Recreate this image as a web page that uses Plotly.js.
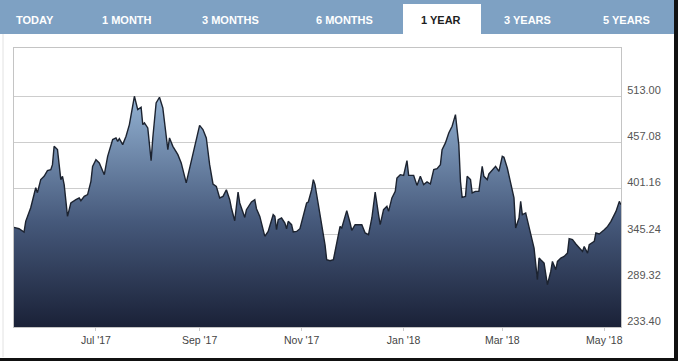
<!DOCTYPE html>
<html>
<head>
<meta charset="utf-8">
<script src="https://cdn.plot.ly/plotly-3.0.1.min.js"></script>
<style>
  html, body { margin: 0; padding: 0; background: #ffffff; }
  #chart { width: 682px; height: 361px; }
</style>
</head>
<body>
<div id="chart"></div>
<script>
// ---- data ----
const dates = [
  '2017-05-13','2017-05-16','2017-05-19','2017-05-20','2017-05-23','2017-05-26','2017-05-27','2017-05-29','2017-05-31',
  '2017-06-02','2017-06-04','2017-06-05','2017-06-06','2017-06-08','2017-06-09','2017-06-10','2017-06-11','2017-06-12',
  '2017-06-14','2017-06-16','2017-06-19','2017-06-21','2017-06-22','2017-06-24','2017-06-26','2017-06-28','2017-06-29',
  '2017-07-01','2017-07-03','2017-07-04','2017-07-06','2017-07-08','2017-07-11','2017-07-13','2017-07-14','2017-07-15',
  '2017-07-17','2017-07-19','2017-07-21','2017-07-24','2017-07-25','2017-07-26','2017-07-28','2017-07-29','2017-07-30',
  '2017-08-01','2017-08-03','2017-08-04','2017-08-06','2017-08-08','2017-08-10','2017-08-12','2017-08-13','2017-08-14',
  '2017-08-16','2017-08-19','2017-08-21','2017-08-24','2017-08-26','2017-08-27','2017-08-29',
  '2017-09-01','2017-09-03','2017-09-05','2017-09-07','2017-09-09','2017-09-11','2017-09-13','2017-09-15','2017-09-17',
  '2017-09-19','2017-09-20','2017-09-22','2017-09-24','2017-09-25','2017-09-28','2017-09-29',
  '2017-10-01','2017-10-02','2017-10-04','2017-10-05','2017-10-07','2017-10-10','2017-10-12','2017-10-15','2017-10-16',
  '2017-10-17','2017-10-18','2017-10-20','2017-10-22','2017-10-23','2017-10-24','2017-10-26','2017-10-27','2017-10-29','2017-10-31',
  '2017-11-02','2017-11-04','2017-11-05','2017-11-07','2017-11-08','2017-11-09','2017-11-11','2017-11-13','2017-11-15',
  '2017-11-16','2017-11-18','2017-11-20','2017-11-22','2017-11-24','2017-11-25','2017-11-28','2017-11-30',
  '2017-12-01','2017-12-03','2017-12-05','2017-12-07','2017-12-09','2017-12-11','2017-12-13','2017-12-15','2017-12-17',
  '2017-12-18','2017-12-20','2017-12-22','2017-12-23','2017-12-25','2017-12-27','2017-12-28','2017-12-30',
  '2018-01-01','2018-01-03','2018-01-04','2018-01-07','2018-01-09','2018-01-11','2018-01-13','2018-01-15','2018-01-17',
  '2018-01-19','2018-01-21','2018-01-23','2018-01-24','2018-01-26','2018-01-28','2018-01-30',
  '2018-02-01','2018-02-03','2018-02-04','2018-02-05','2018-02-07','2018-02-08','2018-02-10','2018-02-11','2018-02-13',
  '2018-02-15','2018-02-17','2018-02-18','2018-02-20','2018-02-21','2018-02-23','2018-02-25','2018-02-27',
  '2018-03-01','2018-03-02','2018-03-04','2018-03-06','2018-03-08','2018-03-09','2018-03-11','2018-03-12','2018-03-13',
  '2018-03-15','2018-03-16','2018-03-18','2018-03-20','2018-03-22','2018-03-23','2018-03-24','2018-03-26','2018-03-28',
  '2018-03-30','2018-03-31',
  '2018-04-02','2018-04-03','2018-04-05','2018-04-07','2018-04-09','2018-04-10','2018-04-12','2018-04-14','2018-04-16',
  '2018-04-18','2018-04-19','2018-04-21','2018-04-22','2018-04-25','2018-04-26','2018-04-28',
  '2018-05-01','2018-05-03','2018-05-05','2018-05-08','2018-05-10','2018-05-11'
];
const prices = [
  354.1,352.5,348.5,361.4,378.0,402.2,396.2,412.0,416.0,
  422.9,424.1,430.1,452.3,448.4,430.1,412.0,416.0,405.9,
  367.4,383.7,387.7,389.8,386.5,391.7,393.8,409.9,428.1,
  436.2,432.2,428.1,418.0,440.2,460.5,462.5,458.4,461.7,
  454.4,464.5,478.7,513.0,502.9,496.9,499.7,478.7,480.7,
  474.7,435.0,462.5,505.0,511.8,498.9,466.5,448.4,462.5,
  452.3,442.3,432.2,408.0,426.1,434.2,454.4,
  477.8,472.6,462.5,430.1,406.7,403.8,389.8,391.7,399.8,
  387.7,377.6,362.2,397.0,383.7,366.2,375.6,
  381.6,384.9,387.7,376.8,367.4,343.2,349.2,369.5,367.4,
  351.3,363.4,365.5,359.4,352.5,361.4,357.4,348.5,349.2,352.5,
  369.5,383.7,384.9,399.8,412.0,405.9,381.6,357.4,333.1,
  314.9,313.7,314.9,337.1,355.3,353.4,374.4,359.4,
  350.5,357.4,357.4,357.4,347.4,345.2,365.5,397.0,369.5,
  357.4,375.6,379.6,373.5,389.8,397.8,414.0,418.0,
  417.2,435.0,417.2,417.2,405.0,416.0,405.9,409.2,406.7,
  424.1,425.3,430.1,448.4,456.5,468.6,476.6,
  490.8,454.4,409.9,390.5,391.7,416.0,412.0,395.8,397.8,
  397.8,428.1,416.0,412.0,418.9,422.9,428.1,422.0,
  440.2,439.0,426.1,408.0,389.8,353.4,365.5,385.6,369.5,
  371.6,363.4,349.2,329.1,290.7,317.0,314.9,310.9,284.6,
  300.7,312.9,
  302.8,312.9,317.0,318.9,323.0,340.4,339.2,334.0,329.1,
  325.0,331.0,323.0,333.1,337.1,347.3,346.1,
  351.3,355.3,361.4,373.5,385.6,381.6
];
const xTickVals = ['2017-07-01','2017-09-01','2017-11-01','2018-01-01','2018-03-01','2018-05-01'];
const xTickText = ["Jul '17","Sep '17","Nov '17","Jan '18","Mar '18","May '18"];
const yTickVals = [233.40, 289.32, 345.24, 401.16, 457.08, 513.00];
const yTickText = ['233.40','289.32','345.24','401.16','457.08','513.00'];
const tabLabels = ['TODAY','1 MONTH','3 MONTHS','6 MONTHS','1 YEAR','3 YEARS','5 YEARS'];
const activeTab = '1 YEAR';

// ---- layout helpers (pixel -> paper) ----
const FW = 682, FH = 361;
const ML = 14, MR = 61, MT = 48, MB = 34;
const PW = FW - ML - MR, PH = FH - MT - MB;
const px = p => (p - ML) / PW;
const py = p => 1 - (p - MT) / PH;

const tabCenters = [35, 127, 230, 344, 441, 527, 626];

const shapes = [
  {type:'rect', xref:'paper', yref:'paper', x0:px(0), x1:px(674), y0:py(0), y1:py(34),
   fillcolor:'#7ea1c3', line:{width:0}, layer:'above'},
  {type:'rect', xref:'paper', yref:'paper', x0:px(403), x1:px(481), y0:py(4), y1:py(35),
   fillcolor:'#ffffff', line:{width:0}, layer:'above'},
  {type:'rect', xref:'paper', yref:'paper', x0:px(674), x1:px(678), y0:py(0), y1:py(361),
   fillcolor:'#111111', line:{width:0}, layer:'above'},
  {type:'rect', xref:'paper', yref:'paper', x0:px(0), x1:px(678), y0:py(358), y1:py(361),
   fillcolor:'#111111', line:{width:0}, layer:'above'},
  {type:'line', xref:'paper', yref:'paper', x0:px(3), x1:px(3), y0:py(34), y1:py(357),
   line:{color:'#e2e2e2', width:1}, layer:'above'}
];

const annotations = tabLabels.map((t, i) => ({
  xref:'paper', yref:'paper', x:px(tabCenters[i]), y:py(19.5),
  xanchor:'center', yanchor:'middle', showarrow:false, text:'<b>' + t + '</b>',
  font:{family:'"Liberation Sans", Arial, sans-serif', size:11, color: t === activeTab ? '#1e1e1e' : '#ffffff'}
}));

const trace = {
  type:'scatter', mode:'lines', x:dates, y:prices,
  fill:'tozeroy',
  fillgradient:{type:'vertical', start:233.4, stop:513,
    colorscale:[[0,'#1a2137'],[0.45,'#45587a'],[1,'#93b2d3']]},
  line:{color:'#1c2330', width:1.4, shape:'linear'},
  hoverinfo:'skip', showlegend:false
};

const layout = {
  width:FW, height:FH,
  margin:{l:ML, r:MR, t:MT, b:MB, pad:0},
  paper_bgcolor:'#ffffff', plot_bgcolor:'#ffffff',
  font:{family:'"Liberation Sans", Arial, sans-serif'},
  showlegend:false,
  xaxis:{
    type:'date', range:['2017-05-13','2018-05-11'],
    tickmode:'array', tickvals:xTickVals, ticktext:xTickText,
    ticks:'outside', ticklen:3, tickcolor:'#cccccc',
    showgrid:false, zeroline:false,
    showline:true, linecolor:'#c4c4c4', linewidth:1, mirror:true,
    tickfont:{size:10.5, color:'#444444'}, fixedrange:true
  },
  yaxis:{
    side:'right', range:[233.4, 571.5],
    tickmode:'array', tickvals:yTickVals, ticktext:yTickText,
    ticks:'', showgrid:true, gridcolor:'#cdcdcd', gridwidth:1,
    zeroline:false, showline:true, linecolor:'#c4c4c4', linewidth:1, mirror:true,
    tickfont:{size:11, color:'#555555'}, ticklabelshift:-6, ticklabelstandoff:3,
    fixedrange:true
  },
  shapes:shapes,
  annotations:annotations
};

Plotly.newPlot('chart', [trace], layout, {displayModeBar:false, staticPlot:true});
</script>
</body>
</html>
